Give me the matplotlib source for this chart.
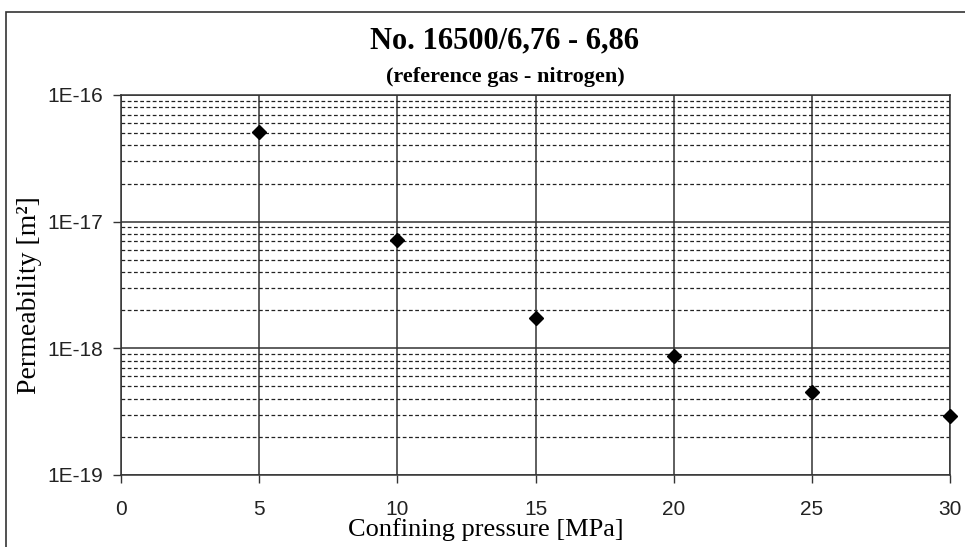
import matplotlib
matplotlib.use("Agg")
import matplotlib.pyplot as plt
from matplotlib.patches import Rectangle
from matplotlib.ticker import FixedLocator, FuncFormatter, NullFormatter
import numpy as np

# Confining pressure [MPa] and measured gas permeability [m^2]
pressure = [5, 10, 15, 20, 25, 30]
permeability = [5.1e-17, 7.2e-18, 1.75e-18, 8.7e-19, 4.5e-19, 2.9e-19]

x_ticks = [0, 5, 10, 15, 20, 25, 30]
y_major = [1e-19, 1e-18, 1e-17, 1e-16]

title = "No. 16500/6,76 - 6,86"
subtitle = "(reference gas - nitrogen)"
x_label = "Confining pressure [MPa]"
y_label = "Permeability [m²]"

serif = ["Liberation Serif", "DejaVu Serif"]
sans = ["Liberation Sans", "DejaVu Sans"]

W, H = 965, 547
fig = plt.figure(figsize=(W / 100, H / 100), dpi=100)
ax = fig.add_axes([121 / W, 1 - 475 / H, (950 - 121) / W, (475 - 95) / H])

ax.set_yscale("log")
ax.set_xlim(0, 30)
ax.set_ylim(1e-19, 1e-16)

# minor decade gridlines (2..9) dashed, decades and x ticks solid
minor = [m * d for d in y_major[:-1] for m in range(2, 10)]
ax.yaxis.set_major_locator(FixedLocator(y_major))
ax.yaxis.set_minor_locator(FixedLocator(minor))
ax.yaxis.set_minor_formatter(NullFormatter())
ax.yaxis.set_major_formatter(FuncFormatter(lambda v, p: "1E%d" % int(round(np.log10(v)))))
ax.xaxis.set_major_locator(FixedLocator(x_ticks))

ax.grid(which="major", axis="y", color="#333333", linewidth=1.1, linestyle="-")
ax.grid(which="minor", axis="y", color="#222222", linewidth=0.9, linestyle=(0, (3.0, 2.0)))
ax.grid(which="major", axis="x", color="#333333", linewidth=1.1, linestyle="-")
ax.set_axisbelow(True)

ax.tick_params(axis="y", which="major", direction="out", length=6, width=1, pad=7,
               labelsize=15, color="#333333")
ax.tick_params(axis="y", which="minor", length=0)
ax.tick_params(axis="x", which="major", direction="out", length=6, width=1, pad=12,
               labelsize=15, color="#333333")
for lab in ax.get_xticklabels() + ax.get_yticklabels():
    lab.set_family(sans)
    lab.set_color("#222222")

for s in ax.spines.values():
    s.set_color("#333333")
    s.set_linewidth(1.1)

ax.plot(pressure, permeability, linestyle="none", marker="D", markersize=7.5,
        color="black", clip_on=False, zorder=5)

# axis titles
fig.text(486 / W, 1 - 530 / H, x_label, family=serif, fontsize=19,
         ha="center", va="center")
fig.text(30 / W, 1 - 295 / H, y_label, family=serif, fontsize=20,
         ha="center", va="center", rotation=90)

fig.text(505 / W, 1 - 41 / H, title, family=serif, fontweight="bold",
         fontsize=22, ha="center", va="center")
fig.text(505 / W, 1 - 77 / H, subtitle, family=serif, fontweight="bold",
         fontsize=16, ha="center", va="center")

# chart frame
fig.patches.append(Rectangle((6 / W, -0.05), 1.0, 1 - 12 / H + 0.05,
                             transform=fig.transFigure, fill=False,
                             edgecolor="#333333", linewidth=1.2, clip_on=False))

fig.savefig("out.png", dpi=100)
